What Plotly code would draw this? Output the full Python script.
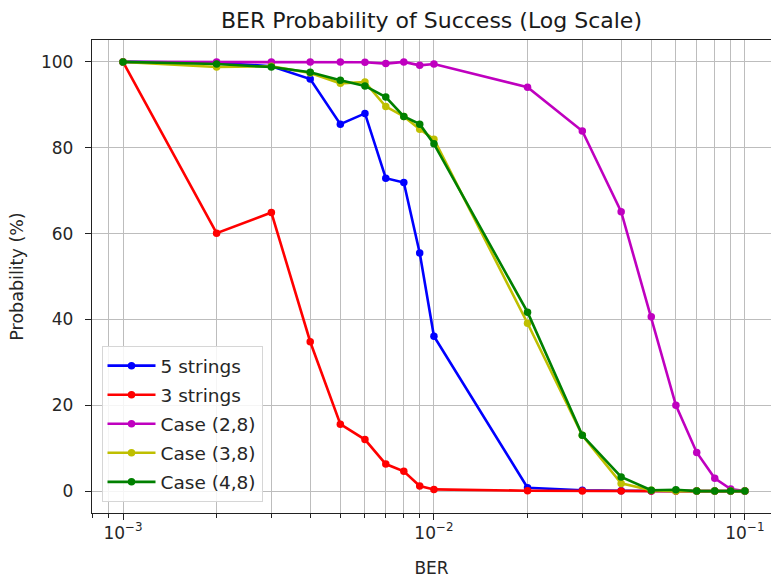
import plotly.graph_objects as go
import numpy as np

ber = [0.001, 0.002, 0.003, 0.004, 0.005, 0.006, 0.007, 0.008, 0.009,
       0.01, 0.02, 0.03, 0.04, 0.05, 0.06, 0.07, 0.08, 0.09, 0.1]

five_strings = [100, 99.8, 99.0, 96.0, 85.5, 88.0, 72.9, 71.9, 55.5,
                36.1, 0.8, 0.2, 0.1, 0.0, 0.0, 0.0, 0.0, 0.0, 0.0]
three_strings = [100, 60.1, 64.9, 34.8, 15.6, 12.0, 6.3, 4.6, 1.2,
                 0.4, 0.1, 0.0, 0.0, 0.0, 0.0, 0.0, 0.0, 0.0, 0.0]
case_2_8 = [100, 100, 100, 100, 100, 99.9, 99.6, 100, 99.2,
            99.5, 94.1, 83.9, 65.1, 40.6, 20.0, 9.0, 3.0, 0.5, 0.0]
case_3_8 = [100, 98.8, 99.0, 97.4, 95.0, 95.3, 89.6, 87.3, 84.3,
            82.0, 39.1, 13.0, 1.8, 0.2, 0.0, 0.0, 0.0, 0.0, 0.0]
case_4_8 = [100, 99.5, 98.8, 97.6, 95.7, 94.4, 91.8, 87.3, 85.5,
            80.9, 41.7, 13.0, 3.3, 0.2, 0.3, 0.0, 0.0, 0.0, 0.0]

series = [
    ("5 strings", five_strings, "#0000ff"),
    ("3 strings", three_strings, "#ff0000"),
    ("Case (2,8)", case_2_8, "#bf00bf"),
    ("Case (3,8)", case_3_8, "#bfbf00"),
    ("Case (4,8)", case_4_8, "#008000"),
]

major_x = [0.001, 0.01, 0.1]
major_text = ["10<sup>\u22123</sup>", "10<sup>\u22122</sup>", "10<sup>\u22121</sup>"]
minor_x = [m * d for d in [0.0001, 0.001, 0.01] for m in range(2, 10)]

fig = go.Figure()
for i, (name, vals, col) in enumerate(series):
    fig.add_trace(go.Scatter(
        x=ber, y=vals, name=name, mode="lines+markers",
        legendgroup="g%d" % i,
        line=dict(color=col, width=2.6),
        marker=dict(color=col, size=7.5),
    ))

font = "DejaVu Sans"
fig.update_layout(
    width=771, height=578,
    margin=dict(l=92, r=0, t=40, b=65),
    plot_bgcolor="white", paper_bgcolor="white",
    font=dict(family=font, size=17, color="#262626"),
    title=dict(text="BER Probability of Success (Log Scale)",
               x=0.5, xref="paper", xanchor="center",
               y=1 - 20 / 578, yanchor="middle",
               font=dict(size=22, color="#1a1a1a")),
    showlegend=True,
    legend=dict(x=0.014, y=0.023, xanchor="left", yanchor="bottom",
                bgcolor="rgba(255,255,255,0.85)", bordercolor="#d6d6d6",
                borderwidth=1, tracegroupgap=2, itemwidth=48,
                font=dict(size=18.5, color="#262626")),
)
fig.update_xaxes(
    type="log", range=[np.log10(0.001) - 0.0997, np.log10(0.1) + 0.084],
    tickvals=major_x, ticktext=major_text,
    ticks="outside", ticklen=6, tickwidth=1.4, tickcolor="#222",
    showline=True, linecolor="#222", linewidth=1.4, mirror=True,
    showgrid=True, gridcolor="#bdbdbd", gridwidth=1.4,
    minor=dict(tickvals=minor_x, ticks="outside", ticklen=3.6, tickwidth=1,
               tickcolor="#222", showgrid=True, gridcolor="#bdbdbd", gridwidth=1.4),
    ticklabelstandoff=-2,
    title=dict(text="BER", font=dict(size=17), standoff=20),
    zeroline=False,
)
fig.update_yaxes(
    range=[-5.1, 105.1], tickvals=[0, 20, 40, 60, 80, 100],
    ticks="outside", ticklen=6, tickwidth=1.4, tickcolor="#222",
    showline=True, linecolor="#222", linewidth=1.4,
    showgrid=True, gridcolor="#bdbdbd", gridwidth=1.4,
    ticklabelstandoff=8,
    title=dict(text="Probability (%)", font=dict(size=17.5), standoff=12),
    zeroline=False,
)
fig.write_html("out.html")
